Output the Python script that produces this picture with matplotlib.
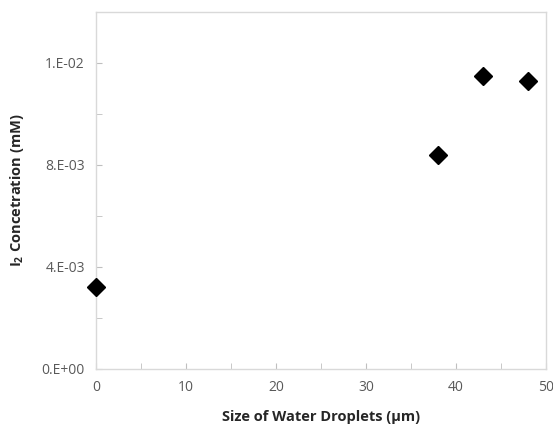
import matplotlib
matplotlib.use('Agg')
from matplotlib import pyplot as plt
from matplotlib.ticker import MultipleLocator, FuncFormatter

# droplet size (um) vs I2 concentration (mM)
droplet_size = [0, 38, 43, 48]
i2_conc = [0.00322, 0.00838, 0.01149, 0.01129]

plt.rcParams['font.family'] = 'Open Sans'
plt.rcParams['mathtext.fontset'] = 'custom'
plt.rcParams['mathtext.rm'] = 'Open Sans:bold'
plt.rcParams['mathtext.it'] = 'Open Sans:bold'

fig = plt.figure(figsize=(5.53, 4.28), dpi=100)
ax = fig.add_axes([96 / 553, 1 - 369 / 428, 450 / 553, 357 / 428])

ax.plot(droplet_size, i2_conc, linestyle='none', marker='D', markersize=9.5,
        color='black', clip_on=False, zorder=5)

ax.set_xlim(0, 50)
ax.set_ylim(0, 0.014)
ax.xaxis.set_major_locator(MultipleLocator(10))
ax.xaxis.set_minor_locator(MultipleLocator(5))
ax.yaxis.set_major_locator(MultipleLocator(0.004))
ax.yaxis.set_minor_locator(MultipleLocator(0.002))


def excel_sci(v, pos):
    if v == 0:
        return '0.E+00'
    s = '%.0E' % v
    m, e = s.split('E')
    return '%s.E%s' % (m, e)


ax.yaxis.set_major_formatter(FuncFormatter(excel_sci))

for s in ax.spines.values():
    s.set_color('#d9d9d9')
    s.set_linewidth(1)

ax.tick_params(which='both', direction='in', color='#bfbfbf', labelcolor='#595959',
               labelsize=10)
ax.tick_params(which='major', length=4)
ax.tick_params(which='minor', length=4)
ax.tick_params(axis='x', pad=8)
ax.tick_params(axis='y', pad=8)

ax.set_xlabel('Size of Water Droplets (µm)', fontsize=10.5, fontweight='bold',
              color='#262626', labelpad=11)
ax.set_ylabel(r'I$_{2}$ Concetration (mM)', fontsize=10.5, fontweight='bold',
              color='#262626', labelpad=11)

fig.savefig('out.png', dpi=100)
